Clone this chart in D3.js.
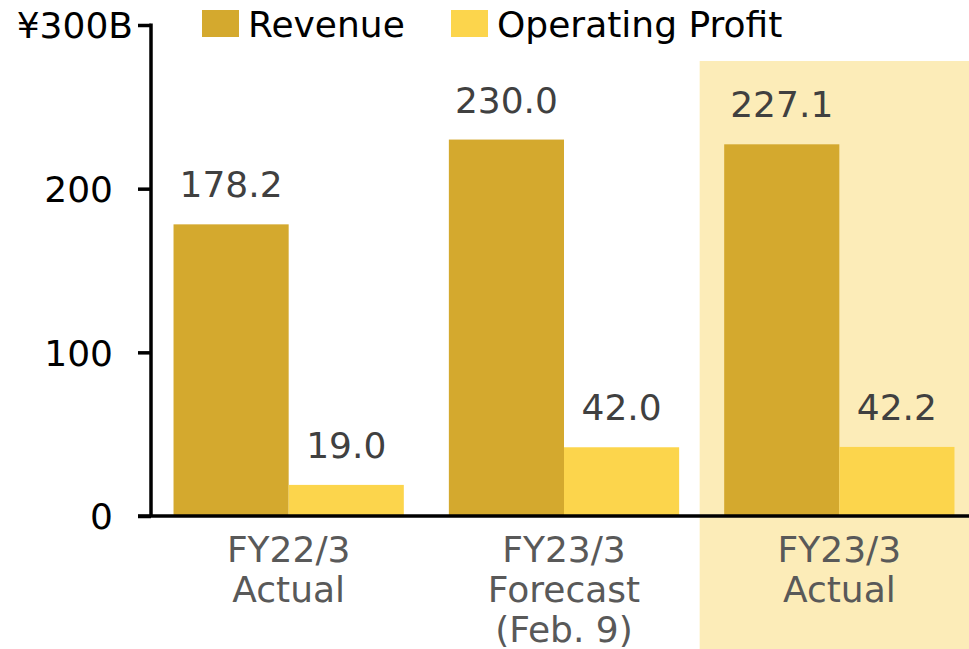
<!DOCTYPE html>
<html>
<head>
<meta charset="utf-8">
<script src="https://cdn.jsdelivr.net/npm/d3@7"></script>
<style>
  body { margin: 0; background: #fff; }
  svg { display: block; font-family: "DejaVu Sans", Verdana, sans-serif; }
</style>
</head>
<body>
<svg id="chart" width="969" height="649"></svg>
<script>
// data
var categories = [["FY22/3", "Actual"], ["FY23/3", "Forecast", "(Feb. 9)"], ["FY23/3", "Actual"]],
    seriesNames = ["Revenue", "Operating Profit"],
    revenue = [178.2, 230.0, 227.1],
    operatingProfit = [19.0, 42.0, 42.2],
    yTicks = [0, 100, 200, 300];

var colors = ["#d4a92e", "#fcd54c"],
    highlightColor = "#fcecb8",
    width = 969,
    height = 649;

var svg = d3.select("#chart");

var catKeys = categories.map(function(c, i) { return i; });

var x0 = d3.scaleBand()
    .domain(catKeys)
    .range([151, 977])
    .paddingInner(0.1636)
    .paddingOuter(0.0818);

var x1 = d3.scaleBand()
    .domain(seriesNames)
    .range([0, x0.bandwidth()]);

var y = d3.scaleLinear()
    .domain([0, 300])
    .range([516, 25]);

var values = [revenue, operatingProfit];

// highlight the last column (actual result)
var last = catKeys[catKeys.length - 1];
svg.append("rect")
    .attr("x", x0(last) - x0.step() * x0.paddingInner() / 2 - 2)
    .attr("y", 61)
    .attr("width", width)
    .attr("height", height - 61)
    .attr("fill", highlightColor);

// bars
var groups = svg.selectAll(".group")
    .data(catKeys)
    .enter().append("g")
    .attr("class", "group")
    .attr("transform", function(d) { return "translate(" + x0(d) + ",0)"; });

groups.selectAll("rect")
    .data(function(d) {
        return seriesNames.map(function(s, j) { return {series: s, value: values[j][d], idx: j}; });
    })
    .enter().append("rect")
    .attr("x", function(d) { return x1(d.series); })
    .attr("y", function(d) { return y(d.value); })
    .attr("width", x1.bandwidth())
    .attr("height", function(d) { return y(0) - y(d.value); })
    .attr("fill", function(d) { return colors[d.idx]; });

groups.selectAll("text.val")
    .data(function(d) {
        return seriesNames.map(function(s, j) { return {series: s, value: values[j][d]}; });
    })
    .enter().append("text")
    .attr("class", "val")
    .attr("x", function(d) { return x1(d.series) + x1.bandwidth() / 2; })
    .attr("y", function(d) { return y(d.value) - 27; })
    .attr("text-anchor", "middle")
    .attr("font-size", 36)
    .attr("fill", "#404040")
    .text(function(d) { return d.value.toFixed(1); });

// y axis
var yAxis = svg.append("g")
    .attr("transform", "translate(151,0)")
    .call(d3.axisLeft(y).tickValues(yTicks).tickSize(13).tickPadding(25)
        .tickFormat(function(d) { return d === 300 ? "¥300B" : d; }));
yAxis.select(".domain").remove();
yAxis.append("line")
    .attr("x1", 0).attr("x2", 0)
    .attr("y1", y(300) - 1.5).attr("y2", y(0))
    .attr("stroke", "#000").attr("stroke-width", 3.5);
yAxis.selectAll(".tick line").attr("stroke", "#000").attr("stroke-width", 3.5);
yAxis.selectAll(".tick text")
    .attr("font-size", 36)
    .attr("font-family", "DejaVu Sans, Verdana, sans-serif")
    .attr("fill", "#000")
    .attr("dy", "0.36em");
yAxis.selectAll(".tick text").filter(function(d) { return d === 300; })
    .attr("x", -18);

// x axis line
svg.append("line")
    .attr("x1", 138).attr("x2", width)
    .attr("y1", y(0)).attr("y2", y(0))
    .attr("stroke", "#000").attr("stroke-width", 3.5);

// category labels
var catLabels = svg.selectAll(".cat")
    .data(catKeys)
    .enter().append("text")
    .attr("class", "cat")
    .attr("text-anchor", "middle")
    .attr("font-size", 36)
    .attr("fill", "#595959");
catLabels.selectAll("tspan")
    .data(function(d) { return categories[d].map(function(line) { return {line: line, cat: d}; }); })
    .enter().append("tspan")
    .attr("x", function(d) { return x0(d.cat) + x0.bandwidth() / 2; })
    .attr("y", function(d, i) { return 562 + i * 40; })
    .text(function(d) { return d.line; });

// legend
var legendX = [202, 451];
var legend = svg.selectAll(".legend")
    .data(seriesNames)
    .enter().append("g")
    .attr("class", "legend")
    .attr("transform", function(d, i) { return "translate(" + legendX[i] + ",10)"; });
legend.append("rect")
    .attr("width", 37).attr("height", 27)
    .attr("fill", function(d, i) { return colors[i]; });
legend.append("text")
    .attr("x", 46).attr("y", 27)
    .attr("font-size", 36)
    .attr("fill", "#000")
    .text(function(d) { return d; });
</script>
</body>
</html>
